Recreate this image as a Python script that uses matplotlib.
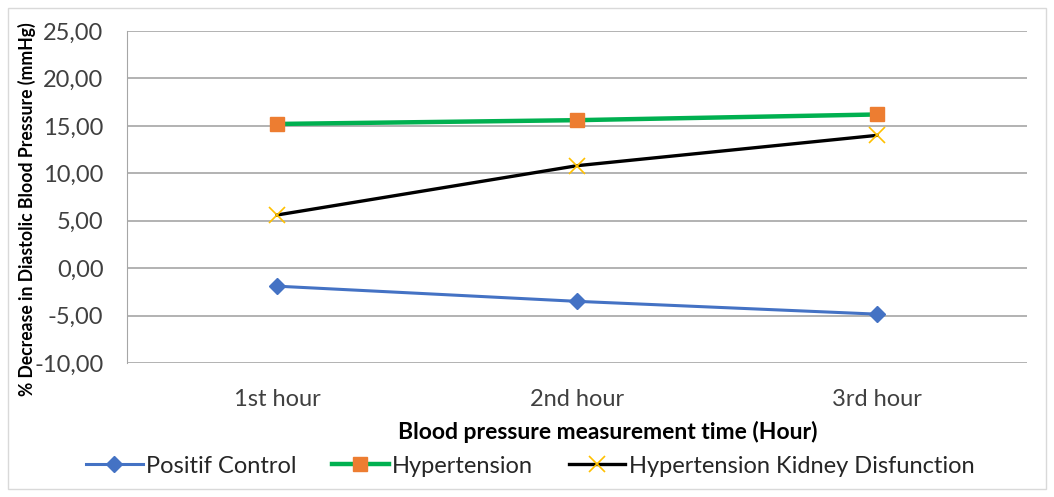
import matplotlib.pyplot as plt
from matplotlib.patches import Rectangle

hours = ["1st hour", "2nd hour", "3rd hour"]
positif_control = [-1.9, -3.5, -4.85]
hypertension = [15.2, 15.6, 16.2]
kidney_disfunction = [5.6, 10.8, 14.0]
y_ticks = [-10, -5, 0, 5, 10, 15, 20, 25]
y_tick_labels = ["-10,00", "-5,00", "0,00", "5,00", "10,00", "15,00", "20,00", "25,00"]


def main():
    plt.rcParams['font.family'] = ['Lato', 'DejaVu Sans']
    fig = plt.figure(figsize=(10.54, 4.97), dpi=100)
    ax = fig.add_axes([127 / 1054, 1 - 363 / 497, 900 / 1054, 332 / 497])

    x = list(range(len(hours)))
    ax.plot(x, positif_control, color='#4472C4', lw=2.2, marker='D',
            ms=8, mfc='#4472C4', mec='#4472C4', label='Positif Control', zorder=3)
    ax.plot(x, hypertension, color='#00B050', lw=3.2, marker='s',
            ms=10, mfc='#ED7D31', mec='#ED7D31', label='Hypertension', zorder=3)
    ax.plot(x, kidney_disfunction, color='black', lw=2.4, marker='x',
            ms=11, mec='#FFC000', mew=1.2,
            label='Hypertension Kidney Disfunction', zorder=4)

    ax.set_xlim(-0.5, 2.5)
    ax.set_ylim(-10, 25)
    ax.set_yticks(y_ticks)
    ax.set_yticklabels(y_tick_labels)
    ax.set_xticks(x)
    ax.set_xticklabels(hours)
    ax.tick_params(axis='y', length=0, pad=17, labelsize=17, colors='#404040')
    ax.tick_params(axis='x', length=0, pad=19, labelsize=17, colors='#404040')
    ax.grid(axis='y', color='#A6A6A6', lw=1.2)
    ax.set_axisbelow(True)
    for side in ['top', 'right', 'bottom']:
        ax.spines[side].set_visible(False)
    ax.spines['left'].set_color('#A6A6A6')

    ax.set_xlabel("Blood pressure measurement time (Hour)", fontsize=16.5,
                  fontweight='bold', labelpad=5)
    ax.xaxis.set_label_coords(0.534, -0.175)
    fig.text(0.026, 0.58, "% Decrease in Diastolic Blood Pressure (mmHg)",
             rotation=90, ha='center', va='center', fontsize=12.7,
             fontweight='bold')

    fig.legend(loc='center', bbox_to_anchor=(0.503, 0.062), ncol=3,
               frameon=False, fontsize=17, handlelength=2.4,
               handletextpad=0.15, columnspacing=1.5,
               labelcolor='#262626')

    fig.patches.append(Rectangle((8 / 1054, 8 / 497), 1038 / 1054, 481 / 497,
                                 transform=fig.transFigure, fill=False,
                                 edgecolor='#D9D9D9', lw=1))
    fig.savefig("out.png", dpi=100)


if __name__ == "__main__":
    main()
